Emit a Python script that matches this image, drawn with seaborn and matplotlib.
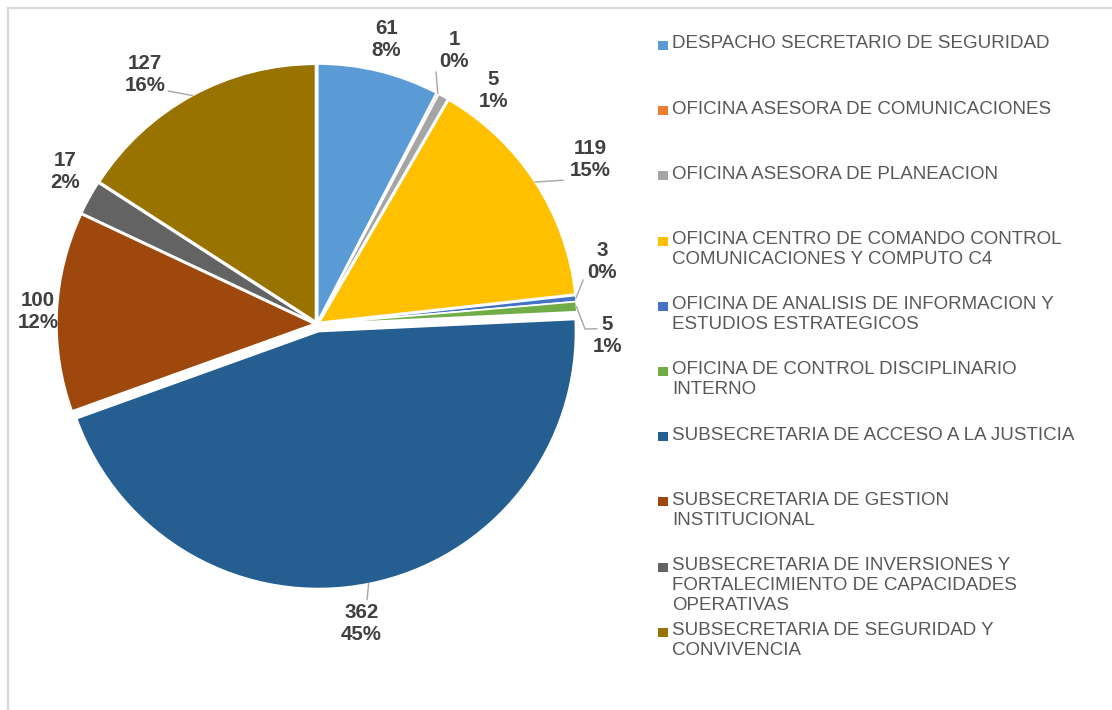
import numpy as np
import matplotlib
matplotlib.use("Agg")
import matplotlib.pyplot as plt
from matplotlib.patches import Rectangle
import seaborn as sns

# ---------------- data ----------------
categories = [
    "DESPACHO SECRETARIO DE SEGURIDAD",
    "OFICINA ASESORA DE COMUNICACIONES",
    "OFICINA ASESORA DE PLANEACION",
    "OFICINA CENTRO DE COMANDO CONTROL\nCOMUNICACIONES Y COMPUTO C4",
    "OFICINA DE ANALISIS DE INFORMACION Y\nESTUDIOS ESTRATEGICOS",
    "OFICINA DE CONTROL DISCIPLINARIO\nINTERNO",
    "SUBSECRETARIA DE ACCESO A LA JUSTICIA",
    "SUBSECRETARIA DE GESTION\nINSTITUCIONAL",
    "SUBSECRETARIA DE INVERSIONES Y\nFORTALECIMIENTO DE CAPACIDADES\nOPERATIVAS",
    "SUBSECRETARIA DE SEGURIDAD Y\nCONVIVENCIA",
]
values = [61, 1, 5, 119, 3, 5, 362, 100, 17, 127]

# ---------------- style ----------------
colors = ["#5B9BD5", "#ED7D31", "#A5A5A5", "#FFC000", "#4472C4",
          "#70AD47", "#255E91", "#9E480E", "#636363", "#997300"]
explode = [0.012, 0.012, 0.012, 0.012, 0.012, 0.012, 0.03, 0.012, 0.012, 0.012]

# label layout: (angle offset from wedge middle in degrees, radius factor)
label_dang = [0.0, 1.0, -8.0, -2.0, 6.7, -6.0, -2.8, 0.2, -2.1, 6.0]
label_rad = [1.14, 1.19, 1.14, 1.24, 1.135, 1.13, 1.18, 1.086, 1.145, 1.18]
# leader lines: points (radius, angle offset) after the wedge edge
leaders = {
    1: [(1.085, 2.4)],
    3: [(1.11, -2.8)],
    4: [(1.05, 3.8)],
    5: [(1.043, -4.9), (1.09, -4.8)],
    6: [(1.09, -0.95)],
    9: [(1.076, 4.0)],
}

sns.set_theme(style="white")
plt.rcParams["font.family"] = ["Liberation Sans", "DejaVu Sans"]

W, H = 1112, 710
fig = plt.figure(figsize=(W / 100, H / 100), dpi=100)
fig.patch.set_facecolor("white")

# frame
fig.patches.append(Rectangle((8 / W, -0.05), 1.2, (H - 8) / H + 0.05,
                             transform=fig.transFigure, fill=False,
                             edgecolor="#D9D9D9", lw=1.5))

R = 257.0
cx, cy = 317.0, 324.0
half = 1.2
side = 2 * half * R
ax = fig.add_axes([(cx - half * R) / W, (H - cy - half * R) / H, side / W, side / H])

wedges, _ = ax.pie(values, colors=colors, startangle=90, counterclock=False,
                   explode=explode, radius=1.0,
                   wedgeprops=dict(edgecolor="white", linewidth=1.2))
ax.set_xlim(-half, half)
ax.set_ylim(-half, half)
ax.set_aspect("equal")
ax.axis("off")

total = sum(values)
for i, (w, v) in enumerate(zip(wedges, values)):
    mid = (w.theta1 + w.theta2) / 2.0
    pct = round(v / total * 100)
    a = np.deg2rad(mid + label_dang[i])
    r = label_rad[i]
    ax.text(r * np.cos(a), r * np.sin(a), f"{v}\n{pct}%", ha="center", va="center",
            fontsize=14.8, fontweight="bold", color="#404040", linespacing=1.2,
            clip_on=False)
    if i in leaders:
        am = np.deg2rad(mid)
        e = explode[i]
        pts = [((1.0 + e) * np.cos(am), (1.0 + e) * np.sin(am))]
        for rr, da in leaders[i]:
            aa = np.deg2rad(mid + da)
            pts.append((rr * np.cos(aa), rr * np.sin(aa)))
        xs, ys = zip(*pts)
        ax.plot(xs, ys, color="#A6A6A6", lw=1.0, clip_on=False)

# legend (manual, Excel-like uniform spacing)
leg_x_sq = 658
leg_x_txt = 672
leg_y0 = 45.5
leg_dy = 65.2
for i, (lab, c) in enumerate(zip(categories, colors)):
    yc = leg_y0 + i * leg_dy
    fig.patches.append(Rectangle((leg_x_sq / W, 1 - (yc + 4.5) / H), 10 / W, 9 / H,
                                 transform=fig.transFigure, facecolor=c,
                                 edgecolor="none"))
    fig.text(leg_x_txt / W, 1 - (yc - 10) / H, lab, ha="left", va="top",
             fontsize=13.5, color="#595959", linespacing=1.22)

fig.savefig("out.png", dpi=100, facecolor="white")
